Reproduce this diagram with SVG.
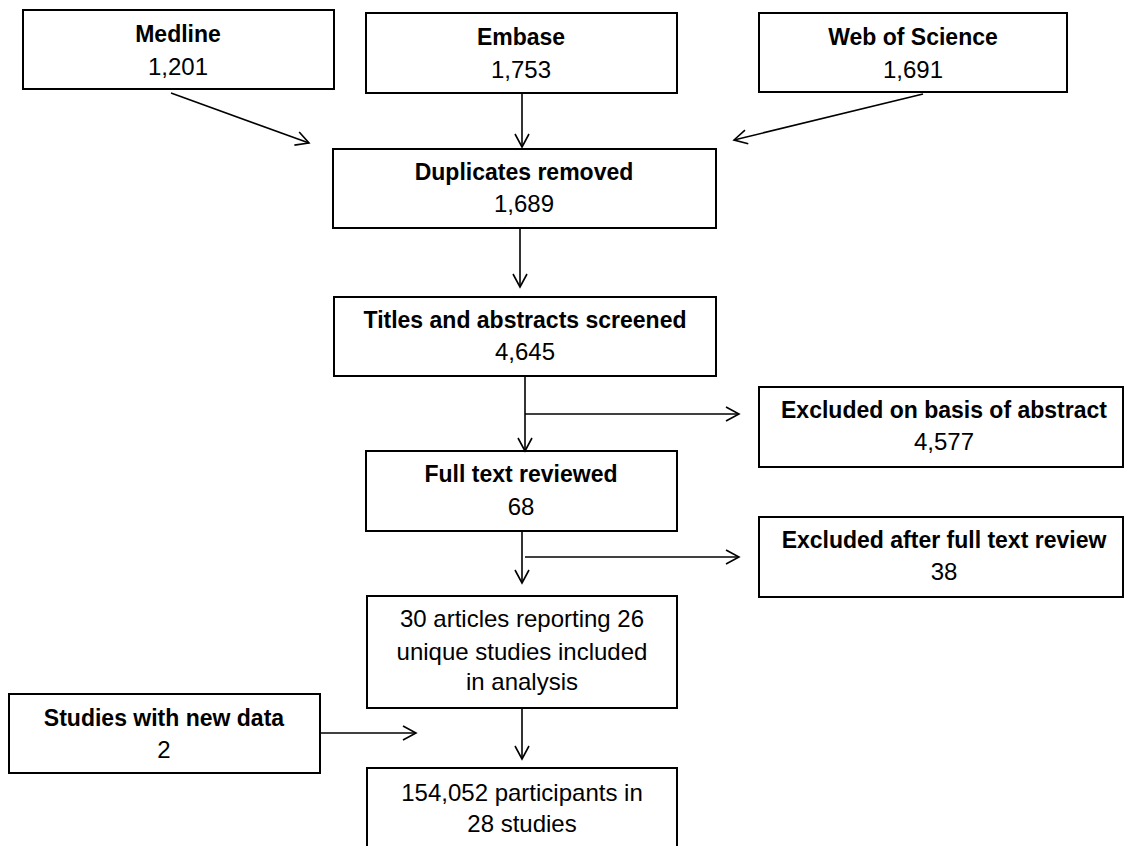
<svg xmlns="http://www.w3.org/2000/svg" width="1124" height="846" viewBox="0 0 1124 846">
<style>
.box{fill:#fff;stroke:#000;stroke-width:2}
.t{font-family:"Liberation Sans",Arial,sans-serif;font-size:23px;font-weight:bold;text-anchor:middle;fill:#000}
.n{font-family:"Liberation Sans",Arial,sans-serif;font-size:24px;text-anchor:middle;fill:#000}
.c{stroke:#000;stroke-width:1.6;fill:none;marker-end:url(#ah)}
</style>
<defs>
<marker id="ah" markerUnits="userSpaceOnUse" markerWidth="16" markerHeight="16" refX="13" refY="7" orient="auto" overflow="visible">
<path d="M0,0 L13,7 L0,14" fill="none" stroke="#000" stroke-width="1.6"/>
</marker>
</defs>
<rect width="1124" height="846" fill="#fff"/>
<g id="medline"><rect class="box" x="23" y="10" width="311" height="79"/><text class="t" x="178" y="42">Medline</text><text class="n" x="178" y="75">1,201</text></g>
<g id="embase"><rect class="box" x="366" y="13" width="311" height="80"/><text class="t" x="521" y="45">Embase</text><text class="n" x="521" y="78">1,753</text></g>
<g id="wos"><rect class="box" x="759" y="13" width="308" height="79"/><text class="t" x="913" y="45">Web of Science</text><text class="n" x="913" y="78">1,691</text></g>
<g id="duplicates"><rect class="box" x="333" y="149" width="383" height="79"/><text class="t" x="524" y="180">Duplicates removed</text><text class="n" x="524" y="212">1,689</text></g>
<g id="titles"><rect class="box" x="334" y="297" width="382" height="79"/><text class="t" x="525" y="328">Titles and abstracts screened</text><text class="n" x="525" y="360">4,645</text></g>
<g id="excl-abstract"><rect class="box" x="759" y="387" width="364" height="80"/><text class="t" x="944" y="418">Excluded on basis of abstract</text><text class="n" x="944" y="450">4,577</text></g>
<g id="fulltext"><rect class="box" x="366" y="451" width="311" height="80"/><text class="t" x="521" y="482">Full text reviewed</text><text class="n" x="521" y="515">68</text></g>
<g id="excl-full"><rect class="box" x="759" y="517" width="364" height="80"/><text class="t" x="944" y="548">Excluded after full text review</text><text class="n" x="944" y="580">38</text></g>
<g id="included"><rect class="box" x="367" y="596" width="310" height="112"/><text class="n" x="522" y="627">30 articles reporting 26</text><text class="n" x="522" y="660">unique studies included</text><text class="n" x="522" y="690">in analysis</text></g>
<g id="newdata"><rect class="box" x="9" y="694" width="311" height="79"/><text class="t" x="164" y="726">Studies with new data</text><text class="n" x="164" y="758">2</text></g>
<g id="participants"><rect class="box" x="367" y="768" width="310" height="90"/><text class="n" x="522" y="801">154,052 participants in</text><text class="n" x="522" y="832">28 studies</text></g>
<g id="connectors">
<line class="c" x1="171" y1="93" x2="309" y2="143"/>
<line class="c" x1="522" y1="93" x2="522" y2="147"/>
<line class="c" x1="923" y1="94" x2="734" y2="140"/>
<line class="c" x1="520" y1="228" x2="520" y2="287"/>
<line class="c" x1="525" y1="376" x2="525" y2="451"/>
<line class="c" x1="525" y1="414" x2="739" y2="414"/>
<line class="c" x1="522" y1="531" x2="522" y2="583"/>
<line class="c" x1="525" y1="557" x2="739" y2="557"/>
<line class="c" x1="320" y1="733" x2="416" y2="733"/>
<line class="c" x1="522" y1="708" x2="522" y2="759"/>
</g>
</svg>
